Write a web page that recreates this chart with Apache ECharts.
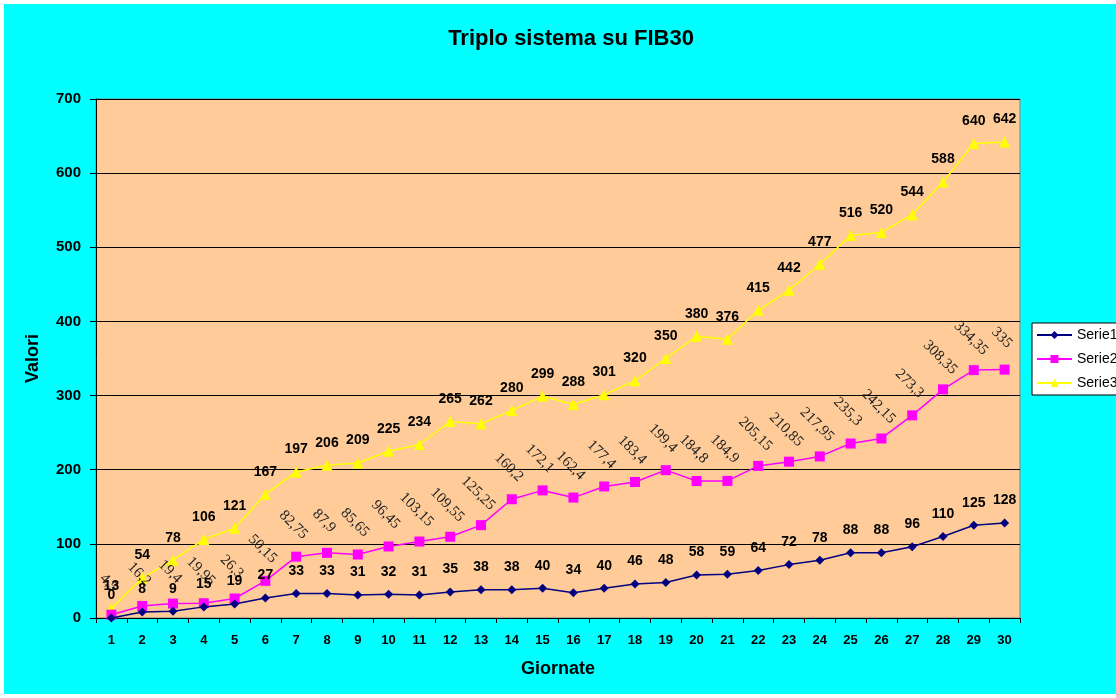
<!DOCTYPE html>
<html>
<head>
<meta charset="utf-8">
<script src="https://cdn.jsdelivr.net/npm/echarts@6/dist/echarts.min.js"></script>
<style>html,body{margin:0;padding:0;background:#fff;}#c{width:1116px;height:698px;}</style>
</head>
<body>
<div id="c"></div>
<script>
var categories = ['1','2','3','4','5','6','7','8','9','10','11','12','13','14','15','16','17','18','19','20','21','22','23','24','25','26','27','28','29','30'];
var serie1 = [0, 8, 9, 15, 19, 27, 33, 33, 31, 32, 31, 35, 38, 38, 40, 34, 40, 46, 48, 58, 59, 64, 72, 78, 88, 88, 96, 110, 125, 128];
var serie2 = [4.5, 16.2, 19.4, 19.95, 26.3, 50.15, 82.75, 87.9, 85.65, 96.45, 103.15, 109.55, 125.25, 160.2, 172.1, 162.4, 177.4, 183.4, 199.4, 184.8, 184.9, 205.15, 210.85, 217.95, 235.3, 242.15, 273.3, 308.35, 334.35, 335];
var serie3 = [13, 54, 78, 106, 121, 167, 197, 206, 209, 225, 234, 265, 262, 280, 299, 288, 301, 320, 350, 380, 376, 415, 442, 477, 516, 520, 544, 588, 640, 642];
var yTicks = [0, 100, 200, 300, 400, 500, 600, 700];

var FONT = 'Arial, Liberation Sans, sans-serif';
var chart = echarts.init(document.getElementById('c'));
function boldLbl(d) {
  return {show: true, position: 'top', distance: d, color: '#000', fontFamily: FONT, fontWeight: 'bold', fontSize: 14};
}
chart.setOption({
  backgroundColor: '#ffffff',
  animation: false,
  graphic: [{type: 'rect', z: -10, shape: {x: 4, y: 4, width: 1112, height: 690}, style: {fill: '#00FFFF'}}],
  title: {text: 'Triplo sistema su FIB30', left: 566, top: 23, textAlign: 'center',
    textStyle: {fontFamily: FONT, fontWeight: 'bold', fontSize: 22, color: '#000'}},
  legend: {
    orient: 'vertical', left: 1032, top: 323, backgroundColor: '#fff', borderColor: '#000', borderWidth: 1,
    padding: [5, 6, 5, 4], itemWidth: 35, itemHeight: 10, itemGap: 10,
    textStyle: {fontFamily: FONT, fontSize: 14, color: '#000'},
    data: ['Serie1', 'Serie2', 'Serie3']
  },
  grid: {left: 96, right: 96, top: 99, bottom: 80, show: true, backgroundColor: '#FFCC99', borderColor: '#808080', borderWidth: 1},
  xAxis: {
    type: 'category', data: categories, boundaryGap: true,
    name: 'Giornate', nameLocation: 'middle', nameGap: 42,
    nameTextStyle: {fontFamily: FONT, fontWeight: 'bold', fontSize: 18, color: '#000'},
    axisLine: {lineStyle: {color: '#000', width: 1}},
    axisTick: {show: true, length: 5, lineStyle: {color: '#000'}},
    axisLabel: {color: '#000', fontFamily: FONT, fontWeight: 'bold', fontSize: 13, margin: 16, interval: 0}
  },
  yAxis: {
    type: 'value', min: 0, max: 700, interval: 100,
    name: 'Valori', nameLocation: 'middle', nameGap: 54, nameRotate: 90,
    nameTextStyle: {fontFamily: FONT, fontWeight: 'bold', fontSize: 18, color: '#000'},
    axisLine: {show: true, lineStyle: {color: '#000', width: 1}},
    axisTick: {show: true, length: 6, lineStyle: {color: '#000'}},
    splitLine: {show: true, lineStyle: {color: '#000', width: 1}},
    axisLabel: {color: '#000', fontFamily: FONT, fontWeight: 'bold', fontSize: 15, margin: 15,
      formatter: function (v) { return yTicks.indexOf(v) >= 0 ? String(v) : ''; }}
  },
  series: [
    {name: 'Serie1', type: 'line', data: serie1, symbol: 'diamond', symbolSize: 9, z: 5,
      itemStyle: {color: '#000080'}, lineStyle: {color: '#000080', width: 1.5}, label: boldLbl(11)},
    {name: 'Serie2', type: 'line', data: serie2, symbol: 'rect', symbolSize: 10, z: 4,
      itemStyle: {color: '#FF00FF'}, lineStyle: {color: '#FF00FF', width: 1.5},
      label: {show: true, position: 'top', distance: 0, rotate: -45, align: 'center', verticalAlign: 'middle', offset: [-21, -17],
        color: '#222', fontFamily: 'Liberation Serif, Times New Roman, serif', fontSize: 15,
        formatter: function (p) { return String(p.value).replace('.', ','); }}},
    {name: 'Serie3', type: 'line', data: serie3, symbol: 'triangle', symbolSize: 11, z: 3,
      itemStyle: {color: '#FFFF00'}, lineStyle: {color: '#FFFF00', width: 1.5}, label: boldLbl(10)}
  ]
});
</script>
</body>
</html>
